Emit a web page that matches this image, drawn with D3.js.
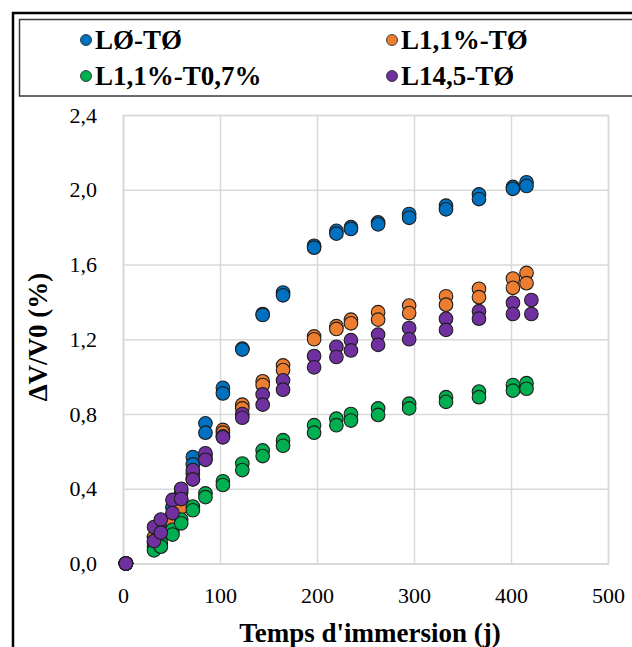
<!DOCTYPE html>
<html>
<head>
<meta charset="utf-8">
<script src="https://cdn.jsdelivr.net/npm/d3@7"></script>
<style>
  html, body { margin: 0; padding: 0; background: #fff; }
  svg { display: block; }
</style>
</head>
<body>
<svg id="chart" width="632" height="647"></svg>
<script>
// ---- data ----
const seriesNames = ["LØ-TØ", "L1,1%-TØ", "L1,1%-T0,7%", "L14,5-TØ"];
const seriesColors = ["#0070C0", "#ED7D31", "#00B050", "#7030A0"];
const days       = [3, 32, 39, 51, 60, 72, 85, 103, 123, 144, 165, 197, 220, 235, 263, 295, 333, 367, 402, 416];
const daysPurple = [3, 32, 39, 51, 60, 72, 85, 103, 123, 144, 165, 197, 220, 235, 263, 295, 333, 367, 402, 421];
const blueA   = [0, 0.14, 0.20, 0.30, 0.38, 0.57, 0.75, 0.94, 1.15, 1.335, 1.45, 1.70, 1.78, 1.80, 1.825, 1.87, 1.915, 1.975, 2.015, 2.04];
const blueB   = [0, 0.11, 0.17, 0.26, 0.34, 0.53, 0.70, 0.91, 1.145, 1.33, 1.435, 1.69, 1.765, 1.79, 1.815, 1.85, 1.895, 1.95, 2.005, 2.02];
const orangeA = [0, 0.14, 0.16, 0.24, 0.32, 0.48, 0.58, 0.715, 0.85, 0.975, 1.06, 1.215, 1.27, 1.305, 1.345, 1.38, 1.43, 1.47, 1.525, 1.555];
const orangeB = [0, 0.12, 0.14, 0.22, 0.30, 0.45, 0.56, 0.70, 0.83, 0.955, 1.035, 1.20, 1.255, 1.285, 1.305, 1.34, 1.385, 1.425, 1.475, 1.50];
const greenA  = [0, 0.09, 0.11, 0.18, 0.235, 0.305, 0.375, 0.44, 0.535, 0.605, 0.66, 0.74, 0.775, 0.80, 0.83, 0.855, 0.89, 0.92, 0.955, 0.965];
const greenB  = [0, 0.07, 0.09, 0.155, 0.215, 0.285, 0.355, 0.42, 0.50, 0.575, 0.63, 0.70, 0.74, 0.765, 0.795, 0.83, 0.865, 0.89, 0.925, 0.935];
const purpleA = [0, 0.195, 0.235, 0.34, 0.40, 0.50, 0.59, 0.68, 0.80, 0.905, 0.98, 1.11, 1.16, 1.195, 1.225, 1.26, 1.31, 1.35, 1.395, 1.41];
const purpleB = [0, 0.12, 0.165, 0.27, 0.345, 0.45, 0.555, 0.675, 0.78, 0.85, 0.93, 1.05, 1.105, 1.14, 1.17, 1.20, 1.25, 1.31, 1.335, 1.335];
const xTicks = [0, 100, 200, 300, 400, 500];
const yTicks = [0, 0.4, 0.8, 1.2, 1.6, 2.0, 2.4];
const xTitle = "Temps d'immersion (j)";
const yTitle = "ΔV/V0 (%)";

const series = [
  { name: seriesNames[0], color: seriesColors[0], x: days, reps: [blueA, blueB] },
  { name: seriesNames[1], color: seriesColors[1], x: days, reps: [orangeA, orangeB] },
  { name: seriesNames[2], color: seriesColors[2], x: days, reps: [greenA, greenB] },
  { name: seriesNames[3], color: seriesColors[3], x: daysPurple, reps: [purpleA, purpleB] }
];

// ---- layout ----
const FONT = "'Liberation Serif', 'Times New Roman', 'DejaVu Serif', serif";
const svg = d3.select("#chart");
const plot = { left: 123, right: 608, top: 115, bottom: 563.5 };
const x = d3.scaleLinear().domain([0, 500]).range([plot.left, plot.right]);
const y = d3.scaleLinear().domain([0, 2.4]).range([plot.bottom, plot.top]);
const fmtY = d => d.toFixed(1).replace(".", ",");

// outer frame (extends beyond canvas on right/bottom)
svg.append("rect").attr("x", 13).attr("y", 13).attr("width", 640).attr("height", 660)
  .attr("fill", "none").attr("stroke", "#000").attr("stroke-width", 2.5);
// legend box
svg.append("rect").attr("x", 19.5).attr("y", 19.5).attr("width", 630).attr("height", 76.5)
  .attr("fill", "none").attr("stroke", "#3a3a3a").attr("stroke-width", 1.5);

// grid
const gx = svg.append("g").attr("transform", `translate(0,${plot.bottom})`)
  .call(d3.axisBottom(x).tickValues(xTicks).tickSize(-(plot.bottom - plot.top)).tickFormat(""));
const gy = svg.append("g").attr("transform", `translate(${plot.left},0)`)
  .call(d3.axisLeft(y).tickValues(yTicks).tickSize(-(plot.right - plot.left)).tickFormat(""));
[gx, gy].forEach(g => {
  g.select(".domain").attr("stroke", "#d9d9d9").attr("stroke-width", 1.5);
  g.selectAll(".tick line").attr("stroke", "#d9d9d9").attr("stroke-width", 1.5);
});

// tick labels via axes
const ax = svg.append("g").attr("transform", `translate(0,${plot.bottom})`)
  .call(d3.axisBottom(x).tickValues(xTicks).tickSize(0).tickPadding(24).tickFormat(d3.format("d")));
ax.attr("font-family", FONT).attr("font-size", 22);
ax.select(".domain").remove();
ax.selectAll("text").attr("fill", "#000").attr("font-family", FONT).attr("font-size", 22);
const ay = svg.append("g").attr("transform", `translate(${plot.left},0)`)
  .call(d3.axisLeft(y).tickValues(yTicks).tickSize(0).tickPadding(26).tickFormat(fmtY));
ay.attr("font-family", FONT).attr("font-size", 22);
ay.select(".domain").remove();
ay.selectAll("text").attr("fill", "#000").attr("font-family", FONT).attr("font-size", 22);

// axis titles
svg.append("text").attr("x", 370).attr("y", 642).attr("text-anchor", "middle")
  .attr("font-family", FONT).attr("font-size", 27).attr("font-weight", "bold").text(xTitle);
svg.append("text").attr("transform", `translate(47,337) rotate(-90)`)
  .attr("text-anchor", "middle").attr("font-family", FONT)
  .attr("font-size", 27).attr("font-weight", "bold").text(yTitle);

// points
series.forEach(s => {
  const pts = [];
  s.reps.forEach(r => r.forEach((v, i) => pts.push({ t: s.x[i], v })));
  svg.append("g").selectAll("circle").data(pts).join("circle")
    .attr("cx", d => x(d.t)).attr("cy", d => y(d.v)).attr("r", 6.8)
    .attr("fill", s.color).attr("stroke", "#1e1e1e").attr("stroke-width", 1.1);
});

// legend
const legPos = [[86, 40], [392, 40], [86, 76], [392, 76]];
series.forEach((s, i) => {
  const [lx, ly] = legPos[i];
  svg.append("circle").attr("cx", lx).attr("cy", ly).attr("r", 5.5)
    .attr("fill", s.color).attr("stroke", "#1e1e1e").attr("stroke-width", 0.8);
  svg.append("text").attr("x", lx + 9).attr("y", ly + 9)
    .attr("font-family", FONT).attr("font-size", 27).attr("font-weight", "bold").text(s.name);
});
</script>
</body>
</html>
